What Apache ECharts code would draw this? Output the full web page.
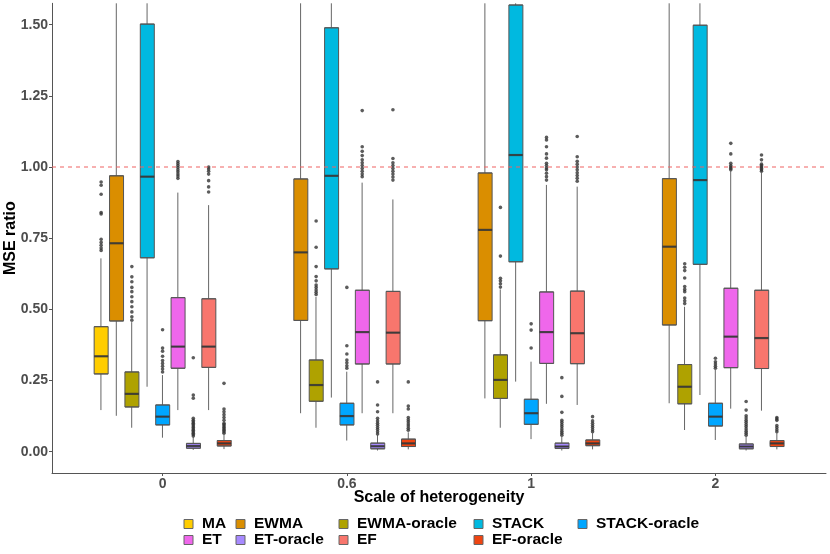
<!DOCTYPE html>
<html>
<head>
<meta charset="utf-8">
<script src="https://cdn.jsdelivr.net/npm/echarts@6/dist/echarts.min.js"></script>
<style>html,body{margin:0;padding:0;background:#fff}#c{width:830px;height:554px}</style>
</head>
<body>
<div id="c"></div>
<script>
// ---------------- data ----------------
const groups = ['0', '0.6', '1', '2'];
const methods = ['MA', 'EWMA', 'EWMA-oracle', 'STACK', 'STACK-oracle', 'ET', 'ET-oracle', 'EF', 'EF-oracle'];
const colors = ['#FFCD00', '#DA8E00', '#AFA200', '#00B9E0', '#00A6FF', '#EF67EB', '#A78AFF', '#F8766D', '#EE4512'];
const yTicks = [0, 0.25, 0.5, 0.75, 1, 1.25, 1.5];
const refLine = 1;

// five-number summaries [min, Q1, median, Q3, max] per heterogeneity level (null = not shown)
const MA = [[0.146, 0.273, 0.335, 0.439, 0.679], null, null, null];
const EWMA = [[0.126, 0.459, 0.732, 0.969, 1.575], [0.135, 0.461, 0.700, 0.958, 1.575], [0.187, 0.460, 0.779, 0.979, 1.575], [0.170, 0.445, 0.720, 0.959, 1.575]];
const EWMA_oracle = [[0.084, 0.157, 0.203, 0.280, 0.455], [0.084, 0.177, 0.234, 0.322, 0.544], [0.084, 0.187, 0.252, 0.340, 0.570], [0.076, 0.168, 0.228, 0.306, 0.509]];
const STACK = [[0.228, 0.681, 0.966, 1.502, 1.575], [0.190, 0.642, 0.969, 1.489, 1.575], [0.246, 0.667, 1.042, 1.569, 1.575], [0.199, 0.658, 0.954, 1.498, 1.575]];
const STACK_oracle = [[0.049, 0.094, 0.123, 0.164, 0.269], [0.039, 0.094, 0.125, 0.170, 0.281], [0.044, 0.096, 0.135, 0.184, 0.316], [0.041, 0.090, 0.123, 0.170, 0.287]];
const ET = [[0.146, 0.293, 0.369, 0.541, 0.910], [0.135, 0.308, 0.420, 0.567, 0.945], [0.168, 0.310, 0.420, 0.561, 0.937], [0.151, 0.295, 0.404, 0.574, 0.985]];
const ET_oracle = [[0.006, 0.012, 0.020, 0.029, 0.052], [0.004, 0.010, 0.019, 0.030, 0.058], [0.004, 0.011, 0.018, 0.030, 0.053], [0.004, 0.010, 0.018, 0.027, 0.053]];
const EF = [[0.146, 0.296, 0.369, 0.537, 0.866], [0.135, 0.308, 0.418, 0.563, 0.886], [0.164, 0.309, 0.416, 0.564, 0.931], [0.144, 0.292, 0.399, 0.567, 0.980]];
const EF_oracle = [[0.009, 0.020, 0.029, 0.039, 0.060], [0.008, 0.018, 0.029, 0.044, 0.068], [0.008, 0.021, 0.029, 0.041, 0.065], [0.008, 0.018, 0.029, 0.039, 0.065]];

// outliers per heterogeneity level
const MA_out = [[0.707, 0.715, 0.725, 0.735, 0.746, 0.835, 0.840, 0.904, 0.936, 0.947], [], [], []];
const EWMA_out = [[], [], [], []];
const EWMA_oracle_out = [
  [0.462, 0.474, 0.491, 0.509, 0.527, 0.544, 0.562, 0.577, 0.597, 0.614, 0.650],
  [0.552, 0.560, 0.568, 0.577, 0.585, 0.600, 0.615, 0.650, 0.718, 0.810],
  [0.578, 0.590, 0.600, 0.609, 0.687, 0.858],
  [0.520, 0.530, 0.540, 0.562, 0.570, 0.580, 0.610, 0.636, 0.648, 0.660]];
const STACK_out = [[], [], [], []];
const STACK_oracle_out = [
  [0.280, 0.290, 0.300, 0.310, 0.320, 0.335, 0.353, 0.364, 0.428],
  [0.293, 0.302, 0.312, 0.322, 0.343, 0.372, 0.577],
  [0.364, 0.427, 0.449],
  [0.293, 0.300, 0.308, 0.316, 0.328]];
const ET_out = [
  [0.960, 0.968, 0.975, 0.983, 0.990, 0.998, 1.005, 1.012, 1.019],
  [0.966, 0.975, 0.985, 0.995, 1.005, 1.015, 1.025, 1.040, 1.055, 1.071, 1.198],
  [0.954, 0.966, 0.978, 0.990, 0.996, 1.005, 1.013, 1.031, 1.046, 1.071, 1.095, 1.104],
  [0.990, 0.995, 1.000, 1.005, 1.013, 1.046, 1.083]];
const ET_oracle_out = [
  [0.055, 0.060, 0.065, 0.070, 0.075, 0.080, 0.085, 0.090, 0.095, 0.100, 0.105, 0.110, 0.117, 0.188, 0.199, 0.330],
  [0.062, 0.070, 0.078, 0.085, 0.093, 0.100, 0.108, 0.117, 0.140, 0.164, 0.245],
  [0.058, 0.065, 0.072, 0.080, 0.088, 0.095, 0.103, 0.110, 0.138, 0.194, 0.260],
  [0.058, 0.065, 0.072, 0.080, 0.088, 0.095, 0.103, 0.110, 0.118, 0.126, 0.146, 0.176]];
const EF_out = [
  [0.912, 0.930, 0.952, 0.975, 0.985, 0.993, 1.000],
  [0.954, 0.965, 0.975, 0.985, 0.995, 1.005, 1.015, 1.030, 1.201],
  [0.950, 0.960, 0.970, 0.980, 0.990, 1.000, 1.010, 1.020, 1.036, 1.107],
  [0.985, 0.990, 0.995, 1.000, 1.005, 1.010, 1.025, 1.042]];
const EF_oracle_out = [
  [0.065, 0.070, 0.075, 0.080, 0.085, 0.090, 0.095, 0.100, 0.110, 0.120, 0.130, 0.140, 0.150, 0.240],
  [0.075, 0.082, 0.090, 0.097, 0.105, 0.112, 0.120, 0.150, 0.160, 0.245],
  [0.070, 0.077, 0.085, 0.092, 0.100, 0.108, 0.123],
  [0.070, 0.077, 0.085, 0.092, 0.110, 0.115, 0.120]];

const summaries = [MA, EWMA, EWMA_oracle, STACK, STACK_oracle, ET, ET_oracle, EF, EF_oracle];
const outliers = [MA_out, EWMA_out, EWMA_oracle_out, STACK_out, STACK_oracle_out, ET_out, ET_oracle_out, EF_out, EF_oracle_out];

// ---------------- layout helpers ----------------
// discrete x scale: each level occupies one unit, range [0.4, n+0.6]; dodge step = 1/12 unit
const PER_UNIT = 60;
const NSLOT = Math.round((groups.length + 0.2) * PER_UNIT) + 1; // 253
const centerSlot = g => Math.round(0.6 * PER_UNIT) + PER_UNIT * g;
const slotOf = (g, m) => centerSlot(g) + (PER_UNIT / 12) * (m - 4);
const cats = Array.from({length: NSLOT}, (_, i) => String(i));
const isCenter = i => i >= centerSlot(0) && (i - centerSlot(0)) % PER_UNIT === 0 && (i - centerSlot(0)) / PER_UNIT < groups.length;

const FONT = '"Liberation Sans", Arial, Helvetica, sans-serif';

const series = [];
// whiskers
methods.forEach((name, m) => {
  const data = [];
  summaries[m].forEach((s, g) => { if (s) data.push([slotOf(g, m), s[0], s[1], s[2], s[3], s[4]]); });
  series.push({
    type: 'boxplot', name: name + ' whisker', data, encode: {x: 0, y: [1, 2, 3, 4, 5]},
    boxWidth: [0, 0], silent: true, z: 2,
    itemStyle: {color: 'rgba(0,0,0,0)', borderColor: '#666666', borderWidth: 1},
    emphasis: {disabled: true}
  });
});
// boxes
methods.forEach((name, m) => {
  const data = [];
  summaries[m].forEach((s, g) => { if (s) data.push([slotOf(g, m), s[1], s[1], s[2], s[3], s[3]]); });
  series.push({
    type: 'boxplot', name, data, encode: {x: 0, y: [1, 2, 3, 4, 5]},
    boxWidth: [14, 14], silent: true, z: 3,
    itemStyle: {color: colors[m], borderColor: '#555555', borderWidth: 1},
    emphasis: {disabled: true}
  });
});
// medians and outliers
const medData = [];
const outData = [];
methods.forEach((name, m) => {
  summaries[m].forEach((s, g) => { if (s) medData.push([slotOf(g, m), s[2]]); });
  outliers[m].forEach((arr, g) => arr.forEach(v => outData.push([slotOf(g, m), v])));
});
series.push({
  type: 'scatter', name: 'median', data: medData, symbol: 'rect', symbolSize: [14, 2.2],
  itemStyle: {color: '#333333'}, silent: true, z: 4, emphasis: {disabled: true}
});
series.push({
  type: 'scatter', name: 'outlier', data: outData, symbol: 'circle', symbolSize: 3.6,
  itemStyle: {color: '#333333'}, silent: true, z: 5, emphasis: {disabled: true}
});
// reference line across the whole x range
series.push({
  type: 'line', name: 'reference', data: [[0, refLine], [NSLOT - 1, refLine]],
  showSymbol: false, symbol: 'none', silent: true, z: 6,
  color: '#F06262',
  lineStyle: {color: '#F06262', opacity: 1, type: [4, 4], width: 1.2},
  emphasis: {disabled: true}
});

// legend: 5 columns, filled by row
const legendCols = [[0, 5], [1, 6], [2, 7], [3, 8], [4]];
const legendLeft = [183.5, 235.5, 338.5, 473.5, 577.5];
const legends = legendCols.map((col, ci) => ({
  orient: 'vertical', left: legendLeft[ci], top: 516, padding: 0,
  itemWidth: 9, itemHeight: 9, itemGap: 0, icon: 'rect',
  textStyle: {fontFamily: FONT, fontSize: 15.5, fontWeight: 'bold', color: '#000', lineHeight: 16, padding: [0, 0, 0, 4]},
  data: col.map(m => ({name: methods[m], icon: 'rect', itemStyle: {color: colors[m], borderColor: '#666666', borderWidth: 1}})),
  selectedMode: false
}));

const option = {
  animation: false,
  backgroundColor: '#fff',
  textStyle: {fontFamily: FONT},
  grid: {left: 52, right: 4, top: 3.3, bottom: 81, containLabel: false, outerBoundsMode: 'none'},
  legend: legends,
  xAxis: {
    type: 'category', data: cats, boundaryGap: false,
    name: 'Scale of heterogeneity', nameLocation: 'middle', nameGap: 17, nameMoveOverlap: false,
    nameTextStyle: {fontFamily: FONT, fontSize: 16, fontWeight: 'bold', color: '#000'},
    axisLine: {show: true, onZero: false, lineStyle: {color: '#555', width: 1}},
    axisTick: {show: true, length: 3, interval: i => isCenter(i), lineStyle: {color: '#555'}},
    axisLabel: {
      show: true, interval: i => isCenter(i), margin: 4,
      formatter: (v, i) => groups[(i - centerSlot(0)) / PER_UNIT],
      fontFamily: FONT, fontSize: 14, fontWeight: 'bold', color: '#4D4D4D'
    },
    splitLine: {show: false}
  },
  yAxis: {
    type: 'value', min: -0.075, max: 1.575,
    name: 'MSE ratio', nameLocation: 'middle', nameGap: 33, nameMoveOverlap: false,
    nameTextStyle: {fontFamily: FONT, fontSize: 16, fontWeight: 'bold', color: '#000'},
    axisLine: {show: true, lineStyle: {color: '#555', width: 1}},
    axisTick: {show: true, length: 3, customValues: yTicks, lineStyle: {color: '#555'}},
    axisLabel: {
      show: true, customValues: yTicks, margin: 4, formatter: v => Number(v).toFixed(2),
      fontFamily: FONT, fontSize: 14, fontWeight: 'bold', color: '#4D4D4D'
    },
    splitLine: {show: false}
  },
  series
};

const chart = echarts.init(document.getElementById('c'), null, {renderer: 'canvas'});
chart.setOption(option);
</script>
</body>
</html>
